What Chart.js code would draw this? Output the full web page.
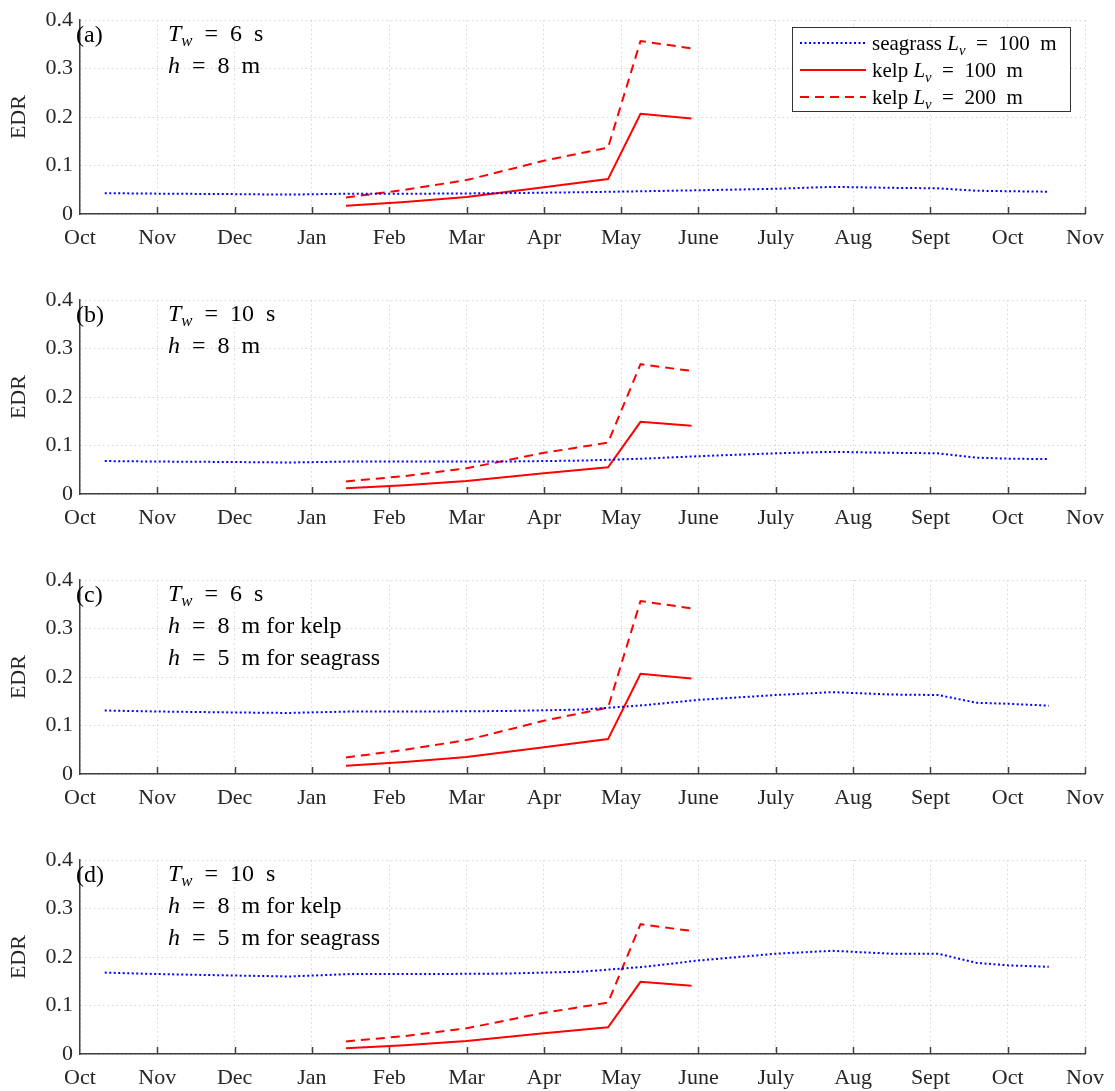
<!DOCTYPE html>
<html lang="en">
<head>
  <meta charset="UTF-8" />
  <title>EDR</title>
  <script src="https://cdn.jsdelivr.net/npm/chart.js"></script>
  <style>
    body { margin: 0; background: #fff; }
    .panel { position: absolute; left: 0; width: 1115px; height: 280px; }
  </style>
</head>
<body>
  <div class="panel" style="top:0px"><canvas id="pa" width="1115" height="280"></canvas></div>
  <div class="panel" style="top:280px"><canvas id="pb" width="1115" height="280"></canvas></div>
  <div class="panel" style="top:560px"><canvas id="pc" width="1115" height="280"></canvas></div>
  <div class="panel" style="top:840px"><canvas id="pd" width="1115" height="280"></canvas></div>

  <script>
    // month ticks, x in months since 1 Oct
    const monthLabels = ['Oct','Nov','Dec','Jan','Feb','Mar','Apr','May','June','July','Aug','Sept','Oct','Nov'];
    const yTicks = [0, 0.1, 0.2, 0.3, 0.4];

    // seagrass, L_v = 100 m
    const seagrassX = [0.32, 1, 2, 2.7, 3.5, 4.5, 5.5, 6.5, 7.3, 8, 9, 9.73, 10.5, 11.1, 11.6, 12, 12.53];
    const seagrassA = [0.043, 0.042, 0.041, 0.040, 0.042, 0.042, 0.043, 0.045, 0.047, 0.049, 0.052, 0.056, 0.054, 0.053, 0.048, 0.047, 0.046];
    const seagrassB = [0.068, 0.067, 0.066, 0.065, 0.067, 0.067, 0.067, 0.069, 0.073, 0.078, 0.084, 0.087, 0.085, 0.084, 0.075, 0.073, 0.072];
    const seagrassC = [0.131, 0.129, 0.127, 0.126, 0.129, 0.129, 0.130, 0.133, 0.142, 0.153, 0.163, 0.169, 0.164, 0.163, 0.147, 0.145, 0.141];
    const seagrassD = [0.168, 0.165, 0.162, 0.160, 0.165, 0.165, 0.166, 0.170, 0.180, 0.193, 0.207, 0.213, 0.207, 0.207, 0.188, 0.183, 0.180];

    // kelp
    const kelpX = [3.44, 4.2, 5.0, 6.0, 6.83, 7.25, 7.91];
    const kelp100T6 = [0.017, 0.025, 0.035, 0.055, 0.072, 0.207, 0.197];
    const kelp200T6 = [0.034, 0.050, 0.070, 0.110, 0.137, 0.357, 0.342];
    const kelp100T10 = [0.012, 0.018, 0.027, 0.043, 0.055, 0.149, 0.141];
    const kelp200T10 = [0.026, 0.037, 0.053, 0.085, 0.106, 0.268, 0.254];

    const SERIF = '"Liberation Serif", "Times New Roman", serif';
    const EQ = '\u2002=\u2002';

    const pts = (xs, ys) => xs.map((x, i) => ({ x: x, y: ys[i] }));

    // draw text made of pieces: {t, i (italic), sub}
    function richText(ctx, x, y, segs, size) {
      segs.forEach(s => {
        const fs = s.sub ? size * 0.7 : size;
        ctx.font = (s.i ? 'italic ' : '') + fs + 'px ' + SERIF;
        ctx.fillText(s.t, x, y + (s.sub ? size * 0.22 : 0));
        x += ctx.measureText(s.t).width;
      });
    }

    const Lv = [{ t: 'L', i: true }, { t: 'v', i: true, sub: true }];
    const legendRows = [
      { color: '#0000ff', dash: [2, 2.5], segs: [{ t: 'seagrass ' }, ...Lv, { t: EQ + '100\u2002m' }] },
      { color: '#ff0000', dash: [], segs: [{ t: 'kelp ' }, ...Lv, { t: EQ + '100\u2002m' }] },
      { color: '#ff0000', dash: [9, 6], segs: [{ t: 'kelp ' }, ...Lv, { t: EQ + '200\u2002m' }] }
    ];

    function overlay(tag, lines, showLegend) {
      return {
        id: 'overlay',
        afterDraw(chart) {
          const ctx = chart.ctx;
          const a = chart.chartArea;
          const xs = chart.scales.x;
          ctx.save();
          // inward month ticks
          ctx.strokeStyle = '#404040';
          ctx.lineWidth = 1.5;
          ctx.beginPath();
          for (let m = 1; m < monthLabels.length; m++) {
            const px = Math.round(xs.getPixelForValue(m)) + 0.5;
            ctx.moveTo(px, a.bottom);
            ctx.lineTo(px, a.bottom - 7);
          }
          ctx.stroke();

          // y-axis label
          ctx.fillStyle = '#262626';
          ctx.font = '22px ' + SERIF;
          ctx.textAlign = 'center';
          ctx.textBaseline = 'middle';
          ctx.translate(19, (a.top + a.bottom) / 2);
          ctx.rotate(-Math.PI / 2);
          ctx.fillText('EDR', 0, 0);
          ctx.setTransform(1, 0, 0, 1, 0, 0);

          // panel tag and parameters
          ctx.fillStyle = '#000';
          ctx.textAlign = 'left';
          ctx.textBaseline = 'alphabetic';
          ctx.font = '24px ' + SERIF;
          ctx.fillText(tag, 76, a.top + 22);
          lines.forEach((segs, i) => richText(ctx, 168, a.top + 21 + i * 32, segs, 24));

          if (showLegend) {
            const bx = 792, by = 27, bw = 278, bh = 84;
            ctx.fillStyle = '#fff';
            ctx.fillRect(bx, by, bw, bh);
            ctx.strokeStyle = '#333';
            ctx.lineWidth = 1;
            ctx.strokeRect(bx + 0.5, by + 0.5, bw, bh);
            legendRows.forEach((r, i) => {
              const cy = 43 + i * 27;
              ctx.strokeStyle = r.color;
              ctx.lineWidth = 2;
              ctx.setLineDash(r.dash);
              ctx.beginPath();
              ctx.moveTo(800, cy);
              ctx.lineTo(866, cy);
              ctx.stroke();
              ctx.setLineDash([]);
              ctx.fillStyle = '#000';
              richText(ctx, 872, cy + 7, r.segs, 21);
            });
          }
          ctx.restore();
        }
      };
    }

    function makePanel(id, tag, lines, seagrass, kelp100, kelp200, showLegend) {
      new Chart(document.getElementById(id), {
        type: 'line',
        data: {
          datasets: [
            { label: 'seagrass', data: pts(seagrassX, seagrass), borderColor: '#0000ff', borderWidth: 2, borderDash: [2, 2.5], pointRadius: 0, fill: false },
            { label: 'kelp 100', data: pts(kelpX, kelp100), borderColor: '#ff0000', borderWidth: 2, pointRadius: 0, fill: false },
            { label: 'kelp 200', data: pts(kelpX, kelp200), borderColor: '#ff0000', borderWidth: 2, borderDash: [9, 6], pointRadius: 0, fill: false }
          ]
        },
        options: {
          responsive: false,
          animation: false,
          layout: { padding: { top: 14, right: 28, left: 0, bottom: 0 } },
          plugins: { legend: { display: false }, tooltip: { enabled: false } },
          scales: {
            x: {
              type: 'linear', min: 0, max: 13,
              afterFit: s => { s.height = 66; },
              afterBuildTicks: s => { s.ticks = monthLabels.map((_, i) => ({ value: i })); },
              ticks: {
                padding: 11, color: '#262626', maxRotation: 0, autoSkip: false,
                font: { family: SERIF, size: 22 },
                callback: v => monthLabels[v]
              },
              grid: { color: '#d4d4d4', drawTicks: false, lineWidth: 1 },
              border: { display: true, color: '#404040', width: 1.5, dash: [1.5, 3] }
            },
            y: {
              min: 0, max: 0.4,
              afterFit: s => { s.width = 80; },
              afterBuildTicks: s => { s.ticks = yTicks.map(v => ({ value: v })); },
              ticks: {
                padding: 7, color: '#262626',
                font: { family: SERIF, size: 22 },
                callback: v => (v === 0 ? '0' : v.toFixed(1))
              },
              grid: { color: '#d4d4d4', drawTicks: false, lineWidth: 1 },
              border: { display: true, color: '#404040', width: 1.5, dash: [1.5, 3] }
            }
          }
        },
        plugins: [overlay(tag, lines, showLegend)]
      });
    }

    const Tw = v => [{ t: 'T', i: true }, { t: 'w', i: true, sub: true }, { t: EQ + v + '\u2002s' }];
    const hLine = v => [{ t: 'h', i: true }, { t: EQ + v }];

    makePanel('pa', '(a)', [Tw(6), hLine('8\u2002m')], seagrassA, kelp100T6, kelp200T6, true);
    makePanel('pb', '(b)', [Tw(10), hLine('8\u2002m')], seagrassB, kelp100T10, kelp200T10, false);
    makePanel('pc', '(c)', [Tw(6), hLine('8\u2002m for kelp'), hLine('5\u2002m for seagrass')], seagrassC, kelp100T6, kelp200T6, false);
    makePanel('pd', '(d)', [Tw(10), hLine('8\u2002m for kelp'), hLine('5\u2002m for seagrass')], seagrassD, kelp100T10, kelp200T10, false);
  </script>
</body>
</html>
